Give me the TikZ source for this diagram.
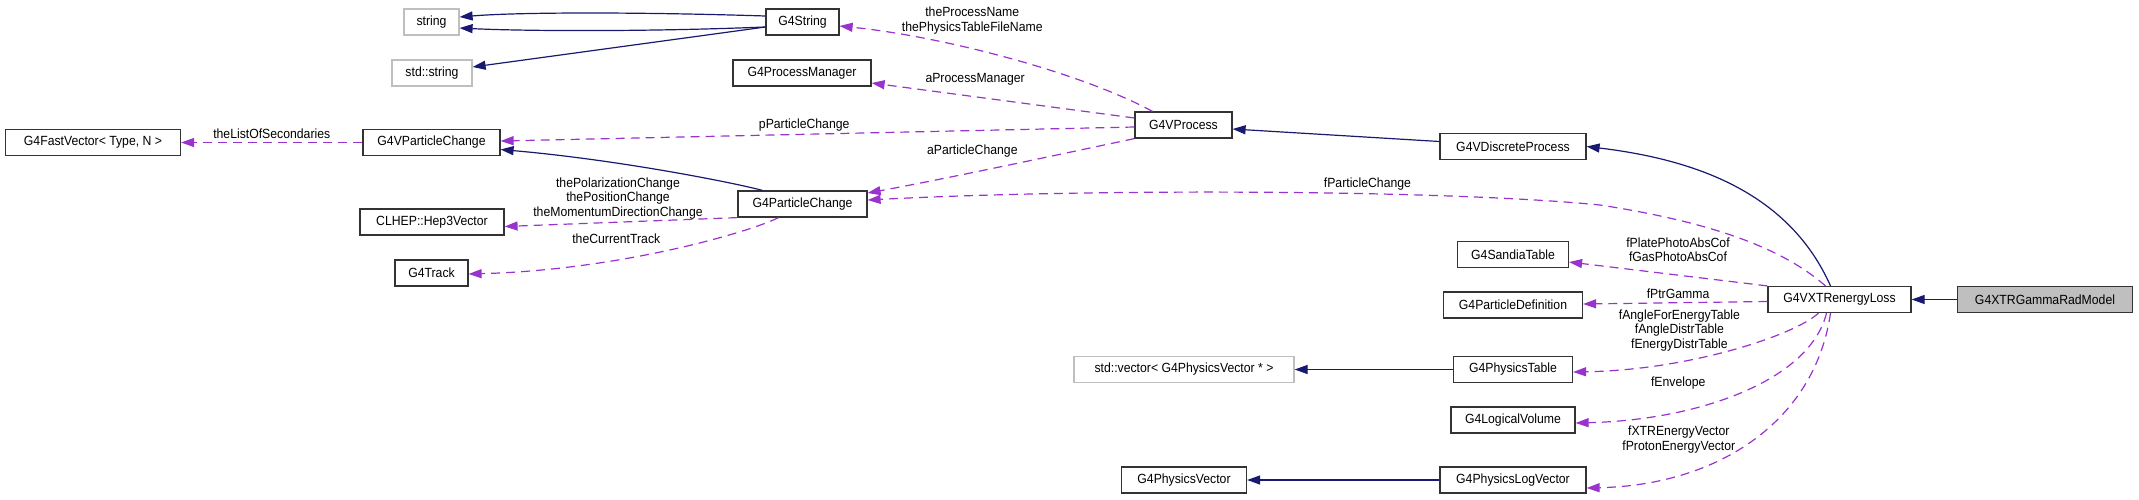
\documentclass[tikz,border=0pt]{standalone}
\usepackage{fontspec}
\setmainfont[FakeStretch=0.92]{Liberation Sans}
\usetikzlibrary{arrows.meta}
\definecolor{inhblue}{HTML}{191970}
\definecolor{usepurple}{HTML}{9A32CD}
\definecolor{extgray}{HTML}{BFBFBF}

\begin{document}
\begin{tikzpicture}[
    x=1pt, y=-1pt,
    cls/.style={draw=black!80, line width=1.2pt, fill=white, minimum height=26pt,
                inner sep=0pt, font=\fontsize{13.3}{14.5}\selectfont},
    ext/.style={cls, draw=extgray},
    self/.style={cls, fill=extgray},
    inh/.style={-{Triangle[length=13pt,width=9pt]}, draw=inhblue, line width=1.2pt},
    use/.style={-{Triangle[length=13pt,width=9pt]}, draw=usepurple, line width=1.2pt,
                dash pattern=on 9pt off 6pt},
    lbl/.style={font=\fontsize{13.3}{14.5}\selectfont, inner sep=0pt, align=center},
  ]
  \useasboundingbox (0,0) rectangle (2139,499);

  \node[ext, minimum width=55pt] (str) at (431.5,22) {string};
  \node[ext, minimum width=80pt] (stdstr) at (432,73) {std::string};
  \node[cls, minimum width=175pt] (fastvec) at (93,142.5) {G4FastVector< Type, N >};
  \node[cls, minimum width=137pt] (vpc) at (431.5,142.5) {G4VParticleChange};
  \node[cls, minimum width=144pt] (hep3) at (432,222) {CLHEP::Hep3Vector};
  \node[cls, minimum width=73pt] (track) at (431.5,273) {G4Track};
  \node[cls, minimum width=73pt] (g4str) at (802.5,22) {G4String};
  \node[cls, minimum width=138pt] (procman) at (802,73) {G4ProcessManager};
  \node[cls, minimum width=129pt] (pchange) at (802.5,204) {G4ParticleChange};
  \node[cls, minimum width=97pt] (vproc) at (1183.5,125) {G4VProcess};
  \node[ext, minimum width=220pt] (stdvec) at (1184,369.5) {std::vector< G4PhysicsVector * >};
  \node[cls, minimum width=125pt] (physvec) at (1184,480) {G4PhysicsVector};
  \node[cls, minimum width=146pt] (discrete) at (1513,146.5) {G4VDiscreteProcess};
  \node[cls, minimum width=111pt] (sandia) at (1513,254.5) {G4SandiaTable};
  \node[cls, minimum width=139pt] (partdef) at (1513,305) {G4ParticleDefinition};
  \node[cls, minimum width=119pt] (phystable) at (1513,369.5) {G4PhysicsTable};
  \node[cls, minimum width=124pt] (logvol) at (1513,420) {G4LogicalVolume};
  \node[cls, minimum width=146pt] (physlogvec) at (1513,480) {G4PhysicsLogVector};
  \node[cls, minimum width=143pt] (xtrloss) at (1839.5,299.5) {G4VXTRenergyLoss};
  \node[self, minimum width=175pt] (gammarad) at (2045,299.5) {G4XTRGammaRadModel};

  \draw[inh] ([yshift=6pt]g4str.west) .. controls (640,12) and (520,12) .. ([yshift=5pt]str.east);
  \draw[inh] ([yshift=-5pt]g4str.west) .. controls (640,32) and (520,31) .. ([yshift=-6pt]str.east);
  \draw[inh] ([yshift=-5pt]g4str.west) -- ([yshift=6pt]stdstr.east);
  \draw[use] (vpc) -- node[lbl, pos=.5, yshift=8.5pt] (lsec) {theListOfSecondaries} (fastvec);
  \draw[inh] ([xshift=-40pt]pchange.north) .. controls (735,183) and (620,160) .. ([yshift=-7pt]vpc.east);
  \draw[use] ([xshift=-31pt]vproc.north) .. controls (1080,72) and (940,36) .. node[lbl, pos=.6, yshift=28.5pt] (lname) {theProcessName\\thePhysicsTableFileName} ([yshift=-4pt]g4str.east);
  \draw[use] ([yshift=7pt]vproc.west) -- node[lbl, pos=.606, yshift=17.8pt] (lmgr) {aProcessManager} ([yshift=-10pt]procman.east);
  \draw[use] ([yshift=-2pt]vproc.west) -- node[lbl, pos=.521, yshift=9.3pt] (lpch) {pParticleChange} ([yshift=1.5pt]vpc.east);
  \draw[use] (vproc.south west) .. controls (1080,150) and (950,178) .. node[lbl, pos=.63, yshift=21.6pt] (lach) {aParticleChange} ([yshift=11pt]pchange.east);
  \draw[inh] ([yshift=5pt]discrete.west) -- ([yshift=-4pt]vproc.east);
  \draw[inh] ([xshift=-9pt]xtrloss.north) .. controls (1790,195) and (1700,160) .. (discrete.east);
  \draw[use] ([xshift=-14pt]xtrloss.north) .. controls (1790,255) and (1730,225) .. (1600,205) .. controls (1450,190) and (1100,188) .. node[lbl, pos=.37, yshift=9.7pt] (lfpc) {fParticleChange} ([yshift=4pt]pchange.east);
  \draw[use] (pchange.south west) -- node[lbl, pos=.513, yshift=23.9pt] (lvec) {thePolarizationChange\\thePositionChange\\theMomentumDirectionChange} ([yshift=-4.5pt]hep3.east);
  \draw[use] ([xshift=-24pt]pchange.south) .. controls (750,232) and (620,270) .. node[lbl, pos=.65, yshift=20.7pt] (ltrk) {theCurrentTrack} ([yshift=-1pt]track.east);
  \draw[use] (xtrloss.north west) -- node[lbl, pos=.451, yshift=25.2pt] (lsan) {fPlatePhotoAbsCof\\fGasPhotoAbsCof} ([yshift=-7.5pt]sandia.east);
  \draw[use] ([yshift=-2pt]xtrloss.west) -- node[lbl, pos=.485, yshift=8.7pt] (lptr) {fPtrGamma} ([yshift=1pt]partdef.east);
  \draw[use] ([xshift=-21pt]xtrloss.south) .. controls (1795,335) and (1690,370) .. node[lbl, pos=.68, yshift=30.9pt] (ltab) {fAngleForEnergyTable\\fAngleDistrTable\\fEnergyDistrTable} ([yshift=-2.5pt]phystable.east);
  \draw[use] ([xshift=-13pt]xtrloss.south) .. controls (1810,380) and (1700,420) .. node[lbl, pos=.71, yshift=28.3pt] (lenv) {fEnvelope} ([yshift=-3pt]logvol.east);
  \draw[use] ([xshift=-9pt]xtrloss.south) .. controls (1815,420) and (1720,485) .. node[lbl, pos=.75, yshift=35pt] (lxtr) {fXTREnergyVector\\fProtonEnergyVector} ([yshift=-8pt]physlogvec.east);
  \draw[inh] (phystable) -- (stdvec);
  \draw[inh] (physlogvec) -- (physvec);
  \draw[inh] (gammarad) -- (xtrloss);
\end{tikzpicture}
\end{document}
